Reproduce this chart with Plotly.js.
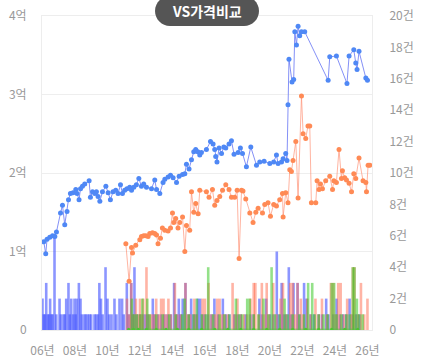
<!DOCTYPE html>
<html><head><meta charset="utf-8">
<script src="https://cdn.plot.ly/plotly-3.0.1.min.js"></script>
<style>html,body{margin:0;padding:0;background:#fff}#c{width:425px;height:364px}</style>
</head><body><div id="c"></div>
<script>
// price series A (blue) : year, price in 억
const blueX=[2006.08,2006.2,2006.28,2006.45,2006.62,2006.76,2006.86,2007.11,2007.23,2007.37,2007.51,2007.6,2007.72,2007.88,2008.05,2008.13,2008.25,2008.34,2008.46,2008.6,2008.87,2008.95,2009.08,2009.22,2009.32,2009.42,2009.53,2009.69,2009.9,2010.04,2010.18,2010.34,2010.51,2010.65,2010.8,2010.92,2011.06,2011.2,2011.37,2011.48,2011.62,2011.78,2011.93,2012.09,2012.23,2012.4,2012.71,2012.91,2013.02,2013.22,2013.42,2013.53,2013.73,2013.88,2014.04,2014.25,2014.41,2014.62,2014.76,2014.86,2015.02,2015.17,2015.31,2015.43,2015.56,2015.68,2015.78,2016.09,2016.34,2016.5,2016.6,2016.66,2016.74,2016.87,2017.02,2017.16,2017.28,2017.48,2017.63,2017.79,2018.04,2018.18,2018.31,2018.55,2018.82,2019.17,2019.37,2019.64,2019.99,2020.23,2020.4,2020.5,2020.71,2020.81,2020.97,2021.05,2021.11,2021.17,2021.36,2021.46,2021.53,2021.63,2021.73,2021.83,2021.94,2022.14,2023.58,2023.68,2024.09,2024.74,2024.87,2025.16,2025.28,2025.36,2025.48,2025.9,2026.0];
const blueY=[1.125,0.97,1.155,1.18,1.2,1.19,1.25,1.49,1.59,1.34,1.51,1.66,1.74,1.75,1.79,1.74,1.66,1.8,1.83,1.86,1.9,1.69,1.76,1.74,1.76,1.7,1.64,1.76,1.83,1.75,1.66,1.76,1.78,1.74,1.85,1.74,1.78,1.8,1.82,1.78,1.82,1.85,1.93,1.83,1.86,1.82,1.8,1.91,1.79,1.74,1.88,1.92,1.95,1.97,1.94,1.88,1.96,1.98,1.99,2.11,2.05,2.17,2.27,2.3,2.27,2.23,2.26,2.3,2.4,2.37,2.3,2.21,2.14,2.32,2.25,2.33,2.32,2.37,2.41,2.24,2.26,2.32,2.25,2.08,2.33,2.1,2.14,2.15,2.12,2.14,2.23,2.12,2.14,2.18,2.25,2.16,2.87,3.45,3.16,3.19,3.8,3.63,3.87,3.75,3.8,3.8,3.18,3.48,3.49,3.14,3.49,3.57,3.4,3.32,3.55,3.21,3.18];
// price series B (orange)
const orangeX=[2011.13,2011.33,2011.48,2011.54,2011.74,2011.99,2012.09,2012.23,2012.36,2012.5,2012.6,2012.77,2012.91,2013.02,2013.11,2013.26,2013.38,2013.53,2013.73,2013.88,2014.0,2014.08,2014.2,2014.34,2014.45,2014.62,2014.76,2014.86,2015.06,2015.17,2015.31,2015.43,2015.58,2015.68,2016.09,2016.25,2016.46,2016.6,2016.74,2016.91,2017.08,2017.28,2017.48,2017.63,2017.83,2017.98,2018.1,2018.25,2018.34,2018.51,2018.76,2018.96,2019.13,2019.27,2019.54,2019.68,2019.88,2020.03,2020.23,2020.4,2020.6,2020.77,2020.81,2020.97,2021.11,2021.22,2021.32,2021.42,2021.59,2021.73,2021.94,2022.04,2022.2,2022.34,2022.45,2022.55,2022.82,2022.9,2023.02,2023.11,2023.23,2023.43,2023.68,2023.85,2023.93,2024.09,2024.25,2024.4,2024.46,2024.6,2024.71,2024.87,2025.02,2025.16,2025.28,2025.48,2025.73,2025.9,2025.94,2026.04,2026.14];
const orangeY=[1.1,0.62,1.05,0.98,1.08,1.15,1.19,1.2,1.2,1.19,1.23,1.24,1.23,1.21,1.1,1.17,1.3,1.27,1.26,1.3,1.49,1.37,1.42,1.3,1.37,1.44,1.0,1.33,1.27,1.76,1.5,1.61,1.48,1.78,1.76,1.69,1.79,1.59,1.65,1.7,1.78,1.85,1.79,1.69,1.69,1.78,0.91,1.78,1.77,1.67,1.49,1.37,1.5,1.55,1.49,1.6,1.62,1.45,1.6,1.58,1.66,1.74,1.44,1.75,1.62,2.04,2.02,2.16,2.4,1.68,2.98,2.5,2.44,2.6,2.6,1.62,1.62,1.9,1.79,1.86,1.8,1.9,1.96,1.79,1.9,1.88,2.3,1.93,2.03,1.94,1.91,1.87,1.76,1.99,1.93,2.19,1.9,1.88,1.76,2.1,2.1];
// price series C (green, near zero)
const greenX=[2011.3,2011.6,2011.9,2012.4,2013.0,2013.6,2014.3,2015.0,2015.8,2016.6,2017.4,2018.2,2019.0,2019.8,2020.6,2021.4,2022.2,2023.0,2023.8,2024.6,2025.4];
const greenY=[0.01,0.01,0.01,0.01,0.01,0.01,0.01,0.01,0.01,0.01,0.01,0.01,0.01,0.01,0.01,0.01,0.01,0.01,0.01,0.01,0.01];
// trade counts (건)
const blueCntX=[2006.0,2006.08,2006.15,2006.23,2006.32,2006.4,2006.47,2006.55,2006.62,2006.74,2006.85,2007.05,2007.13,2007.29,2007.38,2007.46,2007.6,2007.68,2007.77,2007.88,2007.97,2008.04,2008.11,2008.24,2008.34,2008.42,2008.58,2008.67,2008.79,2008.9,2009.0,2009.2,2009.3,2009.42,2009.5,2009.6,2009.7,2009.88,2010.0,2010.1,2010.25,2010.43,2010.55,2010.74,2010.9,2011.0,2011.19,2011.3,2011.46,2011.55,2011.66,2011.8,2012.0,2012.2,2012.35,2012.5,2012.79,2012.9,2013.1,2013.3,2013.5,2013.7,2013.9,2014.1,2014.25,2014.39,2014.5,2014.63,2014.8,2015.0,2015.15,2015.3,2015.45,2015.56,2015.7,2015.85,2016.0,2016.2,2016.4,2016.58,2016.8,2017.1,2017.3,2017.5,2017.8,2018.0,2018.2,2018.5,2018.8,2019.0,2019.35,2019.5,2019.77,2020.0,2020.2,2020.42,2020.55,2020.72,2020.85,2021.0,2021.16,2021.3,2021.45,2021.7,2021.85,2022.1,2022.25,2022.5,2022.7,2023.0,2023.2,2023.46,2023.6,2023.9,2024.1,2024.3,2024.5,2024.7,2024.9,2025.1,2025.3,2025.5];
const blueCnt=[2,1,1,3,1,1,2,1,1,6,1,2,1,1,1,2,3,1,2,1,2,1,2,3,2,1,1,1,1,1,1,1,1,1,3,2,1,4,2,1,1,2,1,2,2,1,3,1,3,1,4,1,1,1,1,1,2,1,1,1,1,1,1,3,1,2,1,2,3,1,2,1,1,2,2,1,1,1,1,2,1,2,1,1,1,1,1,1,1,1,2,1,2,1,1,5,1,3,1,1,4,1,3,3,1,3,2,1,1,1,1,2,1,1,2,1,1,1,2,1,1,1];
const orangeCntX=[2011.2,2011.35,2011.46,2011.6,2011.75,2011.9,2012.0,2012.1,2012.2,2012.4,2012.55,2012.7,2012.85,2013.0,2013.15,2013.3,2013.45,2013.6,2013.75,2013.9,2014.15,2014.3,2014.5,2014.8,2014.95,2015.1,2015.35,2015.5,2015.85,2016.0,2016.22,2016.4,2016.6,2016.75,2016.9,2017.05,2017.2,2017.4,2017.7,2017.85,2018.0,2018.2,2018.4,2018.6,2018.8,2019.0,2019.1,2019.3,2019.5,2019.65,2019.8,2019.95,2020.2,2020.4,2020.65,2020.8,2021.0,2021.25,2021.4,2021.55,2021.7,2021.9,2022.05,2022.3,2022.5,2022.8,2023.0,2023.2,2023.5,2023.75,2023.9,2024.05,2024.2,2024.35,2024.55,2024.75,2025.0,2025.1,2025.2,2025.4,2025.6,2025.8,2026.0];
const orangeCnt=[2,1,3,1,2,1,2,1,2,4,1,1,1,2,1,2,2,1,2,1,3,1,1,3,1,1,2,1,2,2,3,1,1,2,2,1,1,1,3,1,2,1,1,1,2,3,3,1,3,1,3,1,3,1,2,3,1,3,3,1,3,2,1,2,1,2,1,2,1,3,3,1,3,3,1,2,1,4,4,1,3,1,2];
const greenCntX=[2011.5,2011.65,2011.8,2012.0,2012.15,2012.45,2012.6,2013.0,2013.4,2013.8,2014.2,2014.6,2014.75,2015.0,2015.3,2015.5,2015.8,2016.05,2016.2,2016.5,2016.9,2017.2,2017.5,2017.9,2018.1,2018.3,2018.6,2018.75,2019.0,2019.3,2019.6,2019.9,2020.1,2020.3,2020.6,2020.9,2021.1,2021.4,2021.8,2022.1,2022.35,2022.6,2022.75,2023.0,2023.3,2023.55,2023.8,2023.95,2024.1,2024.4,2024.7,2024.9,2025.1,2025.2,2025.35,2025.5,2025.7];
const greenCnt=[2,1,1,1,2,2,1,1,1,1,1,1,2,1,1,2,1,1,4,1,1,1,1,2,1,1,2,2,1,1,2,1,4,1,1,2,1,1,1,1,3,3,1,1,1,1,3,3,1,1,1,1,4,4,2,1,1];
const xTickVals=[2006,2008,2010,2012,2014,2016,2018,2020,2022,2024,2026];
const xTickText=['06년','08년','10년','12년','14년','16년','18년','20년','22년','24년','26년'];
const priceTickVals=[0,1,2,3,4];
const priceTickText=['0','1억','2억','3억','4억'];
const cntTickVals=[0,2,4,6,8,10,12,14,16,18,20];
const cntTickText=['0','2건','4건','6건','8건','10건','12건','14건','16건','18건','20건'];

const FONT='"Noto Sans CJK KR", "Noto Sans", sans-serif';
const bw=0.16;
function barTrace(x,y,color){return {type:'bar',x:x,y:y,yaxis:'y',width:bw,marker:{color:color,line:{width:0}},hoverinfo:'skip'};}
const traces=[
  barTrace(blueCntX,blueCnt,'rgba(70,85,255,0.62)'),
  barTrace(orangeCntX,orangeCnt,'rgba(255,105,75,0.5)'),
  barTrace(greenCntX,greenCnt,'rgba(60,200,40,0.55)'),
  {type:'scatter',mode:'lines+markers',x:greenX,y:greenY,yaxis:'y2',line:{color:'rgba(80,200,60,0.7)',width:1},marker:{color:'#4cc430',size:3},cliponaxis:false},
  {type:'scatter',mode:'lines+markers',x:orangeX,y:orangeY,yaxis:'y2',line:{color:'rgba(255,140,110,0.65)',width:1},marker:{color:'#ff8a55',size:5}},
  {type:'scatter',mode:'lines+markers',x:blueX,y:blueY,yaxis:'y2',line:{color:'rgba(110,125,245,0.85)',width:1},marker:{color:'#4f88f5',size:5}}
];
const tickFont={family:FONT,size:12,color:'#999'};
const layout={
  width:425,height:364,
  margin:{l:42,r:53,t:16,b:34},
  paper_bgcolor:'#fff',plot_bgcolor:'#fff',
  showlegend:false,barmode:'overlay',
  font:{family:FONT},
  xaxis:{range:[2005.97,2026.28],tickvals:xTickVals,ticktext:xTickText,tickfont:tickFont,showgrid:false,zeroline:false,
    showline:true,mirror:true,linecolor:'#ededed',linewidth:1,ticks:'outside',ticklen:10,tickcolor:'rgba(0,0,0,0)'},
  yaxis:{range:[0,20],side:'right',tickvals:cntTickVals,ticktext:cntTickText,tickfont:tickFont,showgrid:false,zeroline:false,
    showline:true,mirror:true,linecolor:'#ededed',ticks:'outside',ticklen:14,tickcolor:'rgba(0,0,0,0)'},
  yaxis2:{range:[0,4],overlaying:'y',side:'left',tickvals:priceTickVals,ticktext:priceTickText,tickfont:tickFont,showgrid:true,gridcolor:'#eeeeee',zeroline:false,
    ticks:'outside',ticklen:12,tickcolor:'rgba(0,0,0,0)'},
  shapes:[{type:'path',xref:'paper',yref:'paper',xsizemode:'pixel',ysizemode:'pixel',xanchor:0.5,yanchor:1,
    path:'M -37,-10 L 37,-10 C 45.3,-10 52,-3.3 52,5 C 52,13.3 45.3,20 37,20 L -37,20 C -45.3,20 -52,13.3 -52,5 C -52,-3.3 -45.3,-10 -37,-10 Z',
    fillcolor:'#555555',line:{width:0},layer:'above'}],
  annotations:[{text:'VS가격비교',xref:'paper',yref:'paper',x:0.5,y:1,yshift:5,showarrow:false,xanchor:'center',yanchor:'middle',
    font:{family:FONT,size:14,color:'#ffffff',weight:'bold'}}]
};
Plotly.newPlot('c',traces,layout,{displayModeBar:false,staticPlot:true});
</script></body></html>
